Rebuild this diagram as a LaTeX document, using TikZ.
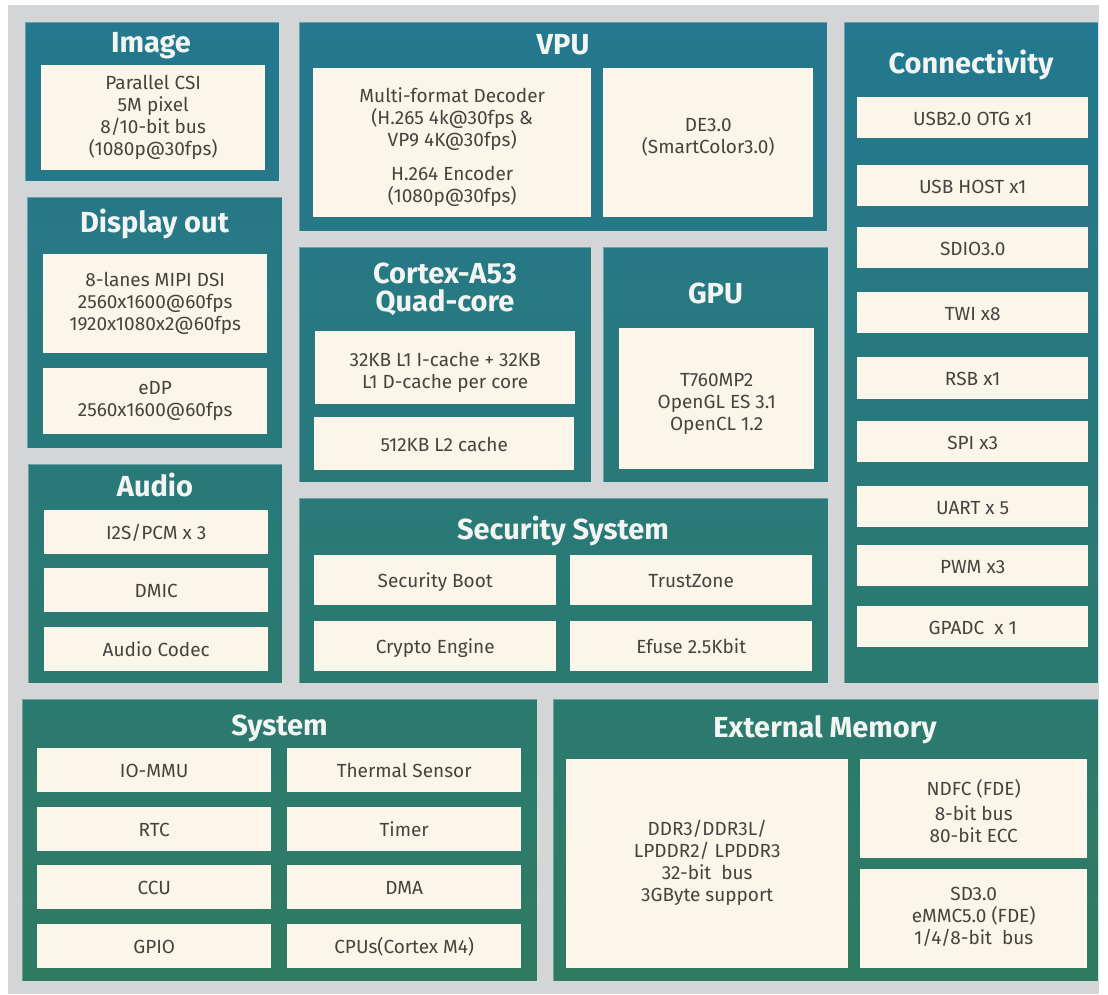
\documentclass[tikz,border=0pt]{standalone}
\usepackage{fontspec}
\setmainfont{Fira Sans}

\definecolor{bggray}{HTML}{D4D5D7}
\definecolor{pantop}{HTML}{1E76A6}
\definecolor{panbot}{HTML}{347D4B}
\definecolor{cream}{HTML}{FCF5EA}
\definecolor{inkgray}{HTML}{46423F}
\definecolor{titlewhite}{HTML}{F2F5F2}

\begin{document}
\begin{tikzpicture}[x=1pt, y=-1pt,
    cell/.style={fill=cream, text=inkgray, inner sep=0pt, anchor=north west, align=center,
                 font=\fontsize{19}{22}\selectfont,
                 execute at begin node={\rule[-5pt]{0pt}{25pt}}, execute at end node={\rule[-5pt]{0pt}{25pt}}},
    paneltitle/.style={text=titlewhite, anchor=base, align=center,
                 font=\fontsize{29}{28}\selectfont\bfseries},
    panelrim/.style={draw=white, draw opacity=0.3, line width=0.8pt}]

     % 背景
     \useasboundingbox (0,0) rectangle (1108,994);
     \fill [bggray] (8,5) rectangle (1099,994);

     % パネル グラデーション
     \begin{scope}
      \clip (25,22) rectangle (279,181)  (27,197) rectangle (282,448)  (28,464) rectangle (282,683)
            (299,22) rectangle (827,231) (844,22) rectangle (1098,683)
            (299,247) rectangle (591,482) (603,247) rectangle (828,482) (299,498) rectangle (828,683)
            (22,699) rectangle (537,981) (553,699) rectangle (1098,981);
      \shade [top color=pantop, bottom color=panbot] (0,-458) rectangle (1108,1461);
     \end{scope}

     % パネル 枠
     \draw [panelrim] (25,22) rectangle (279,181)  (27,197) rectangle (282,448)  (28,464) rectangle (282,683)
            (299,22) rectangle (827,231) (844,22) rectangle (1098,683)
            (299,247) rectangle (591,482) (603,247) rectangle (828,482) (299,498) rectangle (828,683)
            (22,699) rectangle (537,981) (553,699) rectangle (1098,981);

     % タイトル
     \node [paneltitle] (imagetitle) at (151,52) {Image};
     \node [paneltitle] (displaytitle) at (154.5,232) {Display out};
     \node [paneltitle] (audiotitle) at (155,496) {Audio};
     \node [paneltitle] (vputitle) at (563,54) {VPU};
     \node [paneltitle] (conntitle) at (971,73) {Connectivity};
     \node [paneltitle] (cpupretitle) at (445,283) {Cortex-A53};
     \node [paneltitle] (cputitle) at (445,311) {Quad-core};
     \node [paneltitle] (gputitle) at (715.5,303) {GPU};
     \node [paneltitle] (sectitle) at (563,539) {Security System};
     \node [paneltitle] (systitle) at (279.5,735) {System};
     \node [paneltitle] (memtitle) at (825,737) {External Memory};

     % Image / Display out / Audio
     \node [cell, minimum width=224pt, minimum height=105pt] (csi) at (41,65) {Parallel CSI\\5M pixel\\8/10-bit bus\\(1080p@30fps)};
     \node [cell, minimum width=224pt, minimum height=99pt] (dsi) at (43,254) {8-lanes MIPI DSI\\2560x1600@60fps\\1920x1080x2@60fps};
     \node [cell, minimum width=224pt, minimum height=66pt] (edp) at (43,368) {eDP\\2560x1600@60fps};
     \node [cell, minimum width=224pt, minimum height=44pt] (i2s) at (44,510) {I2S/PCM x 3};
     \node [cell, minimum width=224pt, minimum height=44pt] (dmic) at (44,568) {DMIC};
     \node [cell, minimum width=224pt, minimum height=44pt] (codec) at (44,627) {Audio Codec};

     % VPU
     \node [cell, minimum width=278pt, minimum height=149pt] (decoder) at (313,68)
           {\rule{0pt}{25pt}Multi-format Decoder\\(H.265 4k@30fps \&\\VP9 4K@30fps)\\[12pt]H.264 Encoder\\(1080p@30fps)};
     \node [cell, minimum width=210pt, minimum height=149pt] (de) at (603,68) {DE3.0\\(SmartColor3.0)\rule[-14pt]{0pt}{14pt}};

     % Cortex-A53 / GPU
     \node [cell, minimum width=260pt, minimum height=73pt] (lonecache) at (315,331) {\rule{0pt}{25pt}32KB L1 I-cache + 32KB\\L1 D-cache per core};
     \node [cell, minimum width=260pt, minimum height=53pt] (ltwocache) at (314,417) {512KB L2 cache};
     \node [cell, minimum width=195pt, minimum height=141pt] (gpucore) at (619,328) {\rule{0pt}{24pt}T760MP2\\OpenGL ES 3.1\\OpenCL 1.2};

     % Security System
     \node [cell, minimum width=242pt, minimum height=50pt] (secboot) at (314,555) {Security Boot};
     \node [cell, minimum width=242pt, minimum height=50pt] (trustzone) at (570,555) {TrustZone};
     \node [cell, minimum width=242pt, minimum height=50pt] (crypto) at (314,621) {Crypto Engine};
     \node [cell, minimum width=242pt, minimum height=50pt] (efuse) at (570,621) {Efuse 2.5Kbit};

     % Connectivity
     \node [cell, minimum width=231pt, minimum height=41pt] (usbotg) at (857,97) {USB2.0 OTG x1};
     \node [cell, minimum width=231pt, minimum height=41pt] (usbhost) at (857,165) {USB HOST x1};
     \node [cell, minimum width=231pt, minimum height=41pt] (sdio) at (857,227) {SDIO3.0};
     \node [cell, minimum width=231pt, minimum height=41pt] (twi) at (857,292) {TWI x8};
     \node [cell, minimum width=231pt, minimum height=42pt] (rsb) at (857,357) {RSB x1};
     \node [cell, minimum width=231pt, minimum height=41pt] (spi) at (857,421) {SPI x3};
     \node [cell, minimum width=231pt, minimum height=41pt] (uart) at (857,486) {UART x 5};
     \node [cell, minimum width=231pt, minimum height=41pt] (pwm) at (857,545) {PWM x3};
     \node [cell, minimum width=231pt, minimum height=41pt] (gpadc) at (857,606) {GPADC\ \ x 1};

     % System
     \node [cell, minimum width=234pt, minimum height=44pt] (iommu) at (37,748) {IO-MMU};
     \node [cell, minimum width=234pt, minimum height=44pt] (thermal) at (287,748) {Thermal Sensor};
     \node [cell, minimum width=234pt, minimum height=44pt] (rtc) at (37,807) {RTC};
     \node [cell, minimum width=234pt, minimum height=44pt] (timer) at (287,807) {Timer};
     \node [cell, minimum width=234pt, minimum height=44pt] (ccu) at (37,865) {CCU};
     \node [cell, minimum width=234pt, minimum height=44pt] (dma) at (287,865) {DMA};
     \node [cell, minimum width=234pt, minimum height=44pt] (gpio) at (37,924) {GPIO};
     \node [cell, minimum width=234pt, minimum height=44pt] (cpus) at (287,924) {CPUs(Cortex M4)};

     % External Memory
     \node [cell, minimum width=282pt, minimum height=209pt] (ddr) at (566,759)
           {DDR3/DDR3L/\\LPDDR2/ LPDDR3\\32-bit\ \ bus\\3GByte support};
     \node [cell, minimum width=227pt, minimum height=99pt] (ndfc) at (860,759) {\rule{0pt}{26pt}NDFC (FDE)\\[3pt]8-bit bus\\80-bit ECC};
     \node [cell, minimum width=227pt, minimum height=99pt] (sdmmc) at (860,869) {SD3.0\\eMMC5.0 (FDE)\\1/4/8-bit\ \ bus};
\end{tikzpicture}
\end{document}
